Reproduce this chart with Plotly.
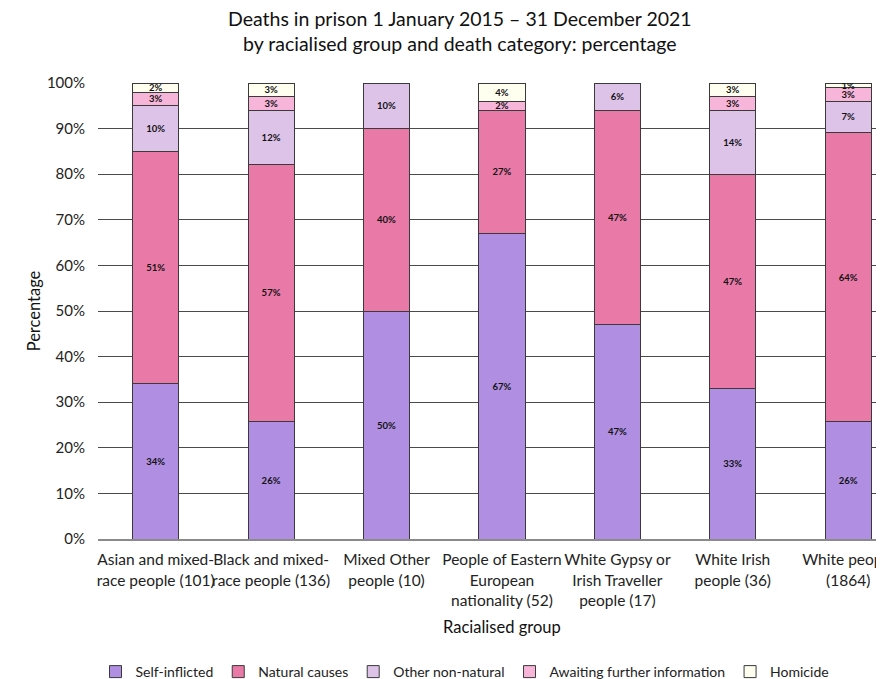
import plotly.graph_objects as go

categories = [
    "Asian and mixed-<br>race people (101)",
    "Black and mixed-<br>race people (136)",
    "Mixed Other<br>people (10)",
    "People of Eastern<br>European<br>nationality (52)",
    "White Gypsy or<br>Irish Traveller<br>people (17)",
    "White Irish<br>people (36)",
    "White people<br>(1864)",
]
self_inflicted = [34, 26, 50, 67, 47, 33, 26]
natural_causes = [51, 57, 40, 27, 47, 47, 64]
other_non_natural = [10, 12, 10, 0, 6, 14, 7]
awaiting_info = [3, 3, 0, 2, 0, 3, 3]
homicide = [2, 3, 0, 4, 0, 3, 1]

series = [
    ("Self-inflicted", self_inflicted, "#B08FE2"),
    ("Natural causes", natural_causes, "#E97AA8"),
    ("Other non-natural", other_non_natural, "#DEC3E9"),
    ("Awaiting further information", awaiting_info, "#F8B5DA"),
    ("Homicide", homicide, "#FFFFF0"),
]

FONT = "Lato"
W, H = 876, 679
L, T, B = 90, 75, 148
PW = W - L
PH = H - T - B

fig = go.Figure()
for name, vals, col in series:
    fig.add_trace(go.Bar(
        name=name, x=list(range(len(categories))), y=vals,
        marker=dict(color=col, line=dict(color="#3a3a3a", width=1)),
        width=0.4,
        text=[f"{v}%" if v > 0 else "" for v in vals],
        textposition="inside", insidetextanchor="middle", textangle=0,
        textfont=dict(family=FONT, size=9.5, color="#111111", weight="bold"),
        hoverinfo="skip",
    ))

fig.update_layout(
    barmode="stack", barnorm="percent",
    width=W, height=H,
    margin=dict(l=L, r=0, t=T, b=B, autoexpand=False),
    paper_bgcolor="white", plot_bgcolor="white",
    font=dict(family=FONT, size=15, color="#222222"),
    uniformtext=dict(minsize=9, mode="show"),
    legend=dict(
        orientation="h", x=(457 - L) / PW, xanchor="center",
        y=(T + PH - 664) / PH, yanchor="middle",
        font=dict(family=FONT, size=14, color="#222222"),
        traceorder="normal", itemwidth=30,
    ),
    showlegend=True,
)
fig.add_annotation(
    text="Deaths in prison 1 January 2015 – 31 December 2021<br>by racialised group and death category: percentage",
    xref="paper", yref="paper", x=(452 - L) / PW, y=1 + (T - 23.5) / PH,
    xanchor="center", yanchor="middle", showarrow=False,
    font=dict(family=FONT, size=19.5, color="#111111"),
)
fig.update_xaxes(
    tickmode="array", tickvals=list(range(len(categories))), ticktext=categories,
    range=[-0.5, 6.31], showgrid=False, showline=True, linecolor="#8a8a8a", linewidth=1.5,
    ticks="", ticklabelstandoff=6, tickangle=0, ticklabeloverflow="allow",
    tickfont=dict(family=FONT, size=15.5, color="#222222"), fixedrange=True,
)
fig.update_yaxes(
    range=[0, 100], tickvals=list(range(0, 101, 10)),
    ticktext=[f"{v}%" for v in range(0, 101, 10)],
    showgrid=True, gridcolor="#4a4a4a", gridwidth=1, zeroline=False,
    ticks="", ticklabelstandoff=12,
    tickfont=dict(family=FONT, size=15, color="#222222"),
    title=dict(text="Percentage", font=dict(family=FONT, size=16.5, color="#111111"), standoff=2),
)
fig.add_annotation(
    text="Racialised group", xref="paper", yref="paper",
    x=(494 - L) / PW, y=(T + PH - 619) / PH, xanchor="center", yanchor="middle",
    showarrow=False, font=dict(family=FONT, size=16.5, color="#111111"),
)
fig.write_html("out.html")
